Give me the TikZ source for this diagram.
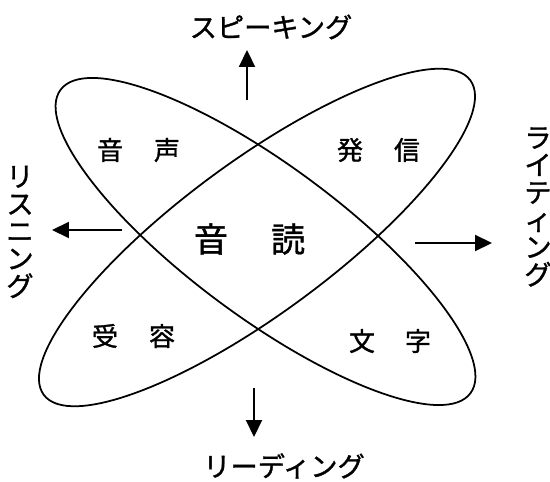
\documentclass[tikz,border=0pt]{standalone}
\usepackage{fontspec}
\newfontfamily\jpfont[FakeBold=1.2]{Noto Sans CJK JP}
\usetikzlibrary{arrows.meta}

\begin{document}
\begin{tikzpicture}[
  x=0.02cm, y=-0.02cm,
  ring/.style={draw=black,line width=1pt},
  skill/.style={font=\jpfont\fontsize{15.5}{15.6}\selectfont,inner sep=0pt,align=center},
  area/.style={font=\jpfont\fontsize{14.8}{16}\selectfont,inner sep=0pt},
  core/.style={font=\jpfont\fontsize{19.4}{22}\selectfont,inner sep=0pt},
  arrow/.style={-{Triangle[length=3.4mm,width=3.2mm]},line width=1.2pt}
]
\useasboundingbox (0,0) rectangle (550,482);
\coordinate (c1) at (265.5,241.5);
\coordinate (c2) at (257,237.5);
\draw[ring,rotate around={-36.5:(c1)}] (c1) ellipse[x radius=255,y radius=76];
\draw[ring,rotate around={36.4:(c2)}] (c2) ellipse[x radius=265,y radius=76];
\node[area] (voice) at (138.5,150) {音\hspace{0.62cm}声};
\node[area] (send) at (378.5,150) {発\hspace{0.62cm}信};
\node[area] (receive) at (133.5,336) {受\hspace{0.62cm}容};
\node[area] (letter) at (390,341) {文\hspace{0.6cm}字};
\node[core] (oral) at (249.5,239) {音\hspace{0.86cm}読};
\node[skill] (speak) at (271,27) {スピーキング};
\node[skill] (read) at (284,466) {リーディング};
\node[skill] (write) at (538,207) {ラ\\イ\\テ\\ィ\\ン\\グ};
\node[skill] (listen) at (20,232) {リ\\ス\\ニ\\ン\\グ};
\coordinate (upS) at (247,100);
\coordinate (upE) at (247,50);
\coordinate (downS) at (254,388);
\coordinate (downE) at (254,437);
\coordinate (leftS) at (122,230);
\coordinate (leftE) at (52,230);
\coordinate (rightS) at (415,243);
\coordinate (rightE) at (492,243);
\draw[arrow] (upS) -- (upE);
\draw[arrow] (downS) -- (downE);
\draw[arrow] (leftS) -- (leftE);
\draw[arrow] (rightS) -- (rightE);
\end{tikzpicture}
\end{document}
